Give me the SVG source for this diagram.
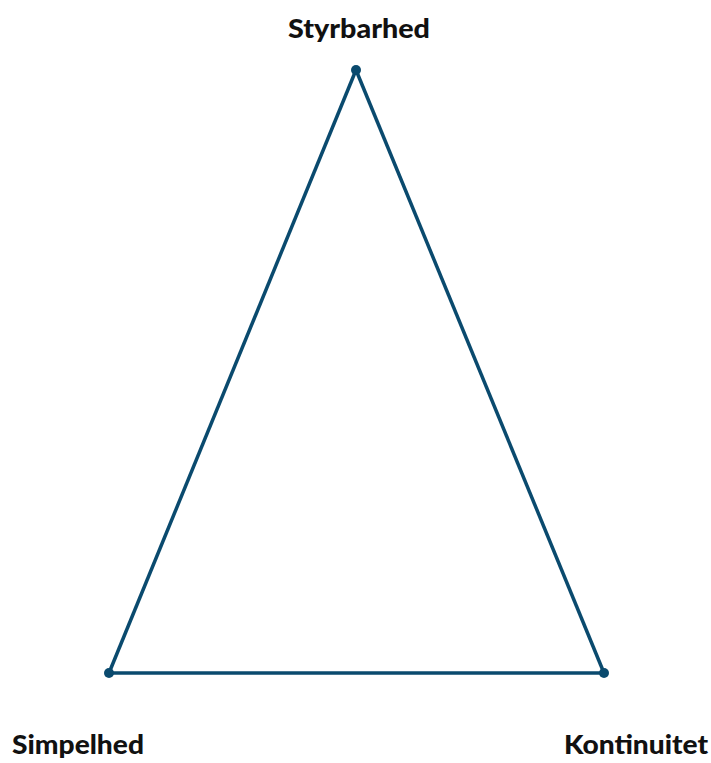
<svg xmlns="http://www.w3.org/2000/svg" width="711" height="763" viewBox="0 0 711 763">
<style>
.lbl{font-family:Lato,"Open Sans","Liberation Sans",sans-serif;font-weight:900;font-size:27px;fill:#111}
.edge{stroke:#0a4a6e;stroke-width:3.5;fill:none;stroke-linejoin:round}
.dot{fill:#0a4a6e}
</style>
<rect width="711" height="763" fill="#fff"/>
<g id="connectors">
<line class="edge" x1="356" y1="70" x2="109" y2="673"/>
<line class="edge" x1="356" y1="70" x2="604" y2="673"/>
<line class="edge" x1="109" y1="673" x2="604" y2="673"/>
</g>
<g id="node-styrbarhed">
<circle class="dot" cx="356" cy="70" r="5"/>
<text class="lbl" x="359" y="38" text-anchor="middle" textLength="142" lengthAdjust="spacingAndGlyphs">Styrbarhed</text>
</g>
<g id="node-simpelhed">
<circle class="dot" cx="109" cy="673" r="5"/>
<text class="lbl" x="12" y="754" textLength="132" lengthAdjust="spacingAndGlyphs">Simpelhed</text>
</g>
<g id="node-kontinuitet">
<circle class="dot" cx="604" cy="673" r="5"/>
<text class="lbl" x="564" y="754" textLength="144" lengthAdjust="spacingAndGlyphs">Kontinuitet</text>
</g>
</svg>
